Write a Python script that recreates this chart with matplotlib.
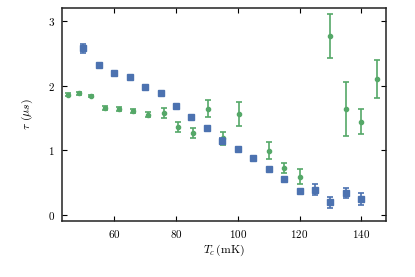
import matplotlib
matplotlib.use("Agg")
import matplotlib.pyplot as plt

plt.rcParams['font.family'] = 'serif'
plt.rcParams['font.serif'] = ['cmr10', 'DejaVu Serif']
plt.rcParams['mathtext.fontset'] = 'cm'
plt.rcParams['axes.formatter.use_mathtext'] = True

# Blue series (squares)
blue_T = [50, 55, 60, 65, 70, 75, 80, 85, 90, 95, 100, 105, 110, 115, 120, 125, 130, 135, 140]
blue_tau = [2.58, 2.32, 2.20, 2.13, 1.98, 1.88, 1.68, 1.52, 1.34, 1.14, 1.02, 0.88, 0.70, 0.56, 0.37, 0.39, 0.19, 0.34, 0.24]
blue_err = [0.07, 0.0, 0.0, 0.0, 0.0, 0.0, 0.0, 0.0, 0.0, 0.04, 0.0, 0.0, 0.0, 0.0, 0.0, 0.09, 0.08, 0.08, 0.09]

# Green series (circles)
green_T = [45, 48.5, 52.5, 57, 61.5, 66, 71, 76, 80.5, 85.5, 90.5, 95.3, 100.3, 110, 115, 120, 130, 135, 140, 145]
green_tau = [1.86, 1.88, 1.84, 1.65, 1.64, 1.60, 1.55, 1.57, 1.36, 1.26, 1.64, 1.18, 1.56, 0.99, 0.72, 0.59, 2.76, 1.64, 1.44, 2.10]
green_err = [0.02, 0.02, 0.02, 0.03, 0.03, 0.03, 0.04, 0.08, 0.08, 0.08, 0.13, 0.10, 0.18, 0.13, 0.08, 0.11, 0.34, 0.42, 0.19, 0.29]

blue = '#4C72B0'
green = '#55A868'

fig = plt.figure(figsize=(4.15, 2.77), dpi=100)
ax = fig.add_axes([0.1494, 0.2032, 0.78, 0.768])

ax.errorbar(green_T, green_tau, yerr=green_err, fmt='o', color=green, ms=3,
            capsize=2.5, elinewidth=1.2, capthick=1.2, zorder=2)
ax.errorbar(blue_T, blue_tau, yerr=blue_err, fmt='s', color=blue, ms=4.8,
            capsize=2.5, elinewidth=1.2, capthick=1.2, zorder=3)

ax.set_xlim(43.1, 147.9)
ax.set_ylim(-0.093, 3.2)
ax.set_xticks([60, 80, 100, 120, 140])
ax.set_yticks([0, 1, 2, 3])
ax.tick_params(direction='in', top=True, right=True, length=3.5, width=0.8,
               labelsize=8, pad=5)
for s in ax.spines.values():
    s.set_linewidth(1.1)
    s.set_color('#222222')

ax.set_xlabel(r'$T_c\,$(mK)', fontsize=8.5, labelpad=2)
ax.set_ylabel(r'$\tau$ ($\mu s$)', fontsize=8.5, labelpad=9)

fig.savefig('out.png', dpi=100)
